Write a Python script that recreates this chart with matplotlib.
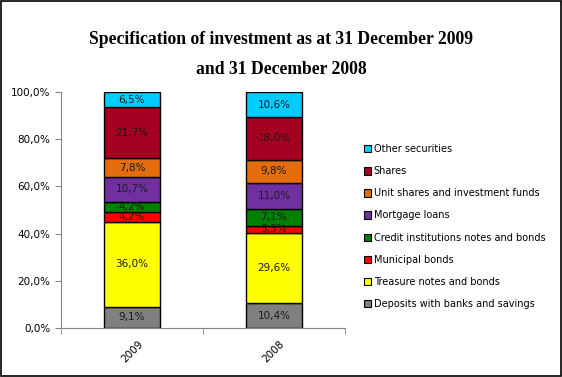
import matplotlib
matplotlib.use("Agg")
import matplotlib.pyplot as plt
from matplotlib.patches import Rectangle, Patch
import numpy as np

years = ["2009", "2008"]
categories = [
    "Deposits with banks and savings",
    "Treasure notes and bonds",
    "Municipal bonds",
    "Credit institutions notes and bonds",
    "Mortgage loans",
    "Unit shares and investment funds",
    "Shares",
    "Other securities",
]
values_2009 = [9.1, 36.0, 4.2, 4.2, 10.7, 7.8, 21.7, 6.5]
values_2008 = [10.4, 29.6, 3.3, 7.1, 11.0, 9.8, 18.0, 10.6]
colors = ["#808080", "#FFFF00", "#FF0000", "#008000", "#7030A0",
          "#E46C0A", "#A50021", "#00CCFF"]

fig = plt.figure(figsize=(5.62, 3.77), dpi=100)
fig.patches.append(Rectangle((0.002, 0.003), 0.996, 0.994, transform=fig.transFigure,
                             fill=False, edgecolor="black", linewidth=1.2))

ax = fig.add_axes([0.1085, 0.13, 0.505, 0.626])

data = np.array([values_2009, values_2008])
# 100% stacked: normalise each column
shares = data / data.sum(axis=1, keepdims=True) * 100
x = np.arange(len(years))
bottom = np.zeros(len(years))
for i, cat in enumerate(categories):
    ax.bar(x, shares[:, i], 0.394, bottom=bottom, color=colors[i],
           edgecolor="black", linewidth=1.0, label=cat)
    for j in range(len(years)):
        lbl = "{:.1f}%".format(data[j, i]).replace(".", ",")
        ax.text(x[j], bottom[j] + shares[j, i] / 2, lbl, ha="center", va="center",
                fontsize=7.5, color="#1a1a1a")
    bottom += shares[:, i]

ax.set_xlim(-0.5, 1.5)
ax.set_ylim(0, 100)
ax.set_yticks(np.arange(0, 101, 20))
ax.set_yticklabels(["{:.1f}%".format(v).replace(".", ",") for v in range(0, 101, 20)],
                   fontsize=7.5)
ax.set_xticks(x)
ax.set_xticklabels(years, rotation=45, fontsize=7.5)
ax.set_xticks([-0.5, 0.5, 1.5], minor=True)
ax.tick_params(axis="x", which="major", length=0, pad=8)
ax.tick_params(axis="x", which="minor", length=4, color="#868686")
ax.tick_params(axis="y", length=4, color="#868686")
for s in ["top", "right"]:
    ax.spines[s].set_visible(False)
for s in ["left", "bottom"]:
    ax.spines[s].set_color("#868686")

handles = [Patch(facecolor=c, edgecolor="black", linewidth=0.8) for c in colors]
fig.legend(handles[::-1], categories[::-1], loc="upper left",
           bbox_to_anchor=(0.647, 0.618), frameon=False, fontsize=7,
           handlelength=0.8, handleheight=0.8, handletextpad=0.25,
           labelspacing=1.25, borderaxespad=0, borderpad=0)

title_kw = dict(ha="center", va="center", fontsize=12.7, fontweight="bold",
                family="Liberation Serif")
fig.text(0.5, 1 - 40 / 377, "Specification of investment as at 31 December 2009", **title_kw)
fig.text(0.5, 1 - 70 / 377, "and 31 December 2008", **title_kw)

fig.savefig("out.png", dpi=100)
